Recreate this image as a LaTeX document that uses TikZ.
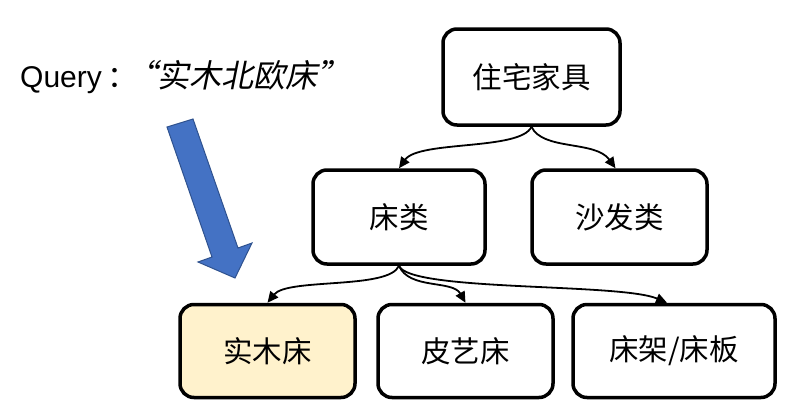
\documentclass[tikz,border=0pt]{standalone}
\usepackage{fontspec}
\setmainfont{Liberation Sans}
\newfontfamily\cjk{Noto Sans CJK SC}
\newfontfamily\cjkit[FakeSlant=0.2]{Noto Sans CJK SC}
\usetikzlibrary{arrows.meta}
\definecolor{boxfill}{HTML}{FFF2CC}
\definecolor{bluefill}{HTML}{4472C4}
\definecolor{blueline}{HTML}{2F528F}
\begin{document}
\begin{tikzpicture}[x=1pt,y=-1pt,
  catbox/.style={draw=black,line width=3.5pt,rounded corners=14pt,inner sep=0pt,
    minimum height=94pt,font=\cjk\fontsize{29.5}{31}\selectfont},
  link/.style={line width=1.8pt,-{Triangle[length=11pt,width=10pt]}}]
\useasboundingbox (0,0) rectangle (804,416);
\node[catbox,minimum width=177pt,minimum height=96pt] (root) at (531.5,77) {住宅家具};
\node[catbox,minimum width=172pt] (bed) at (399,217) {床类};
\node[catbox,minimum width=175pt] (sofa) at (619.5,217) {沙发类};
\node[catbox,minimum width=175pt,minimum height=93pt,fill=boxfill] (wood) at (267.5,351) {实木床};
\node[catbox,minimum width=175pt,minimum height=93pt] (leather) at (465.5,351) {皮艺床};
\node[catbox,minimum width=202pt,minimum height=93pt] (frame) at (674,351) {床架/床板};
\coordinate (sofatip) at ([xshift=-4pt]sofa.north);
\coordinate (frametip) at ([xshift=-7pt]frame.north);
\draw[link] (root.south) .. controls +(-11,24) and +(20,-28) .. (bed.north);
\draw[link] (root.south) .. controls +(11,24) and +(-20,-28) .. (sofatip);
\draw[link] (bed.south) .. controls +(-10,24) and +(20,-25) .. (wood.north);
\draw[link] (bed.south) .. controls +(10,24) and +(-13,-23) .. (leather.north);
\draw[link] (bed.south) .. controls +(10,26) and +(-47,-20) .. (frametip);
\node[anchor=base west,inner sep=0pt,font=\fontsize{30}{32}\selectfont] (query) at (20,87)
  {Query\hspace{6pt}{\cjk ：}\hspace{-12pt}{\cjkit\fontsize{32}{33}\selectfont “实木北欧床”}};
\draw[fill=bluefill,draw=blueline,line width=1pt]
  (167,127) -- (193,119) -- (238,248) -- (252,243) -- (235,278) -- (198,262) -- (212,257) -- cycle;
\end{tikzpicture}
\end{document}
